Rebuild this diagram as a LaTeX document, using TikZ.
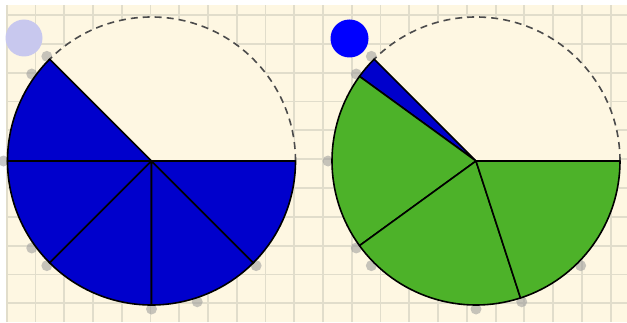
\documentclass[tikz,border=0pt]{standalone}
\definecolor{paper}{RGB}{254,247,226}
\definecolor{paperline}{RGB}{225,221,203}
\definecolor{pieblue}{RGB}{0,0,204}
\definecolor{piegreen}{RGB}{77,178,41}
\definecolor{grabblue}{RGB}{0,0,255}
\definecolor{grabfaint}{RGB}{200,200,238}

\begin{document}
\begin{tikzpicture}[x=1pt, y=1pt,
  gridline/.style = {draw=paperline, line width=1.8pt},
  wedge/.style    = {draw=black, line width=1.6pt, line join=round},
  rim/.style      = {draw=black!70, line width=1.6pt, dash pattern=on 7pt off 5pt},
                      % the part of the whole that is not shaded yet
  handle/.style   = {circle, fill=gray!80, opacity=0.55, inner sep=0pt,
                     minimum size=11pt},
  grab/.style     = {circle, inner sep=0pt, minimum size=37pt},
]
  \useasboundingbox (0,0) rectangle (627,322);
  \fill[white] (0,0) rectangle (627,322);
  \fill[paper] (6,0) rectangle (627,317);

  % squared paper
  \foreach \k in {0,...,21}
    \draw[gridline] ({6.7+28.76*\k},0) -- ++(0,317);
  \foreach \k in {0,...,10}
    \draw[gridline] (6,{307-28.83*\k}) -- (627,{307-28.83*\k});

  \coordinate (lc) at (151.5,161);
  \coordinate (rc) at (476,161);

  % drag points on the rim (eighths and fifths)
  \foreach \c in {lc,rc}
    \foreach \a in {135,144,180,216,225,270,288,315}
      \node[handle] (\c h\a) at ([shift={(\a:148)}]\c) {};

  \fill[paper] (lc) circle[radius=144];
  \fill[paper] (rc) circle[radius=144];
  \draw[rim] ([shift={(0:144)}]lc) arc[start angle=0, end angle=135, radius=144];
  \draw[rim] ([shift={(0:144)}]rc) arc[start angle=0, end angle=135, radius=144];

  % 5/8 in eighths
  \foreach \a in {135,180,225,270,315}
    \filldraw[wedge, fill=pieblue] (lc) -- ++(\a:144)
      arc[start angle=\a, delta angle=45, radius=144] -- cycle;

  % 3/5 and what is left over
  \filldraw[wedge, fill=pieblue] (rc) -- ++(135:144)
    arc[start angle=135, end angle=144, radius=144] -- cycle;
  \foreach \a in {144,216,288}
    \filldraw[wedge, fill=piegreen] (rc) -- ++(\a:144)
      arc[start angle=\a, delta angle=72, radius=144] -- cycle;

  \node[grab, fill=grabfaint] (lgrab) at (24,284) {};
  \node[grab, fill=grabblue, minimum size=38pt] (rgrab) at (349.5,283.5) {};
\end{tikzpicture}
\end{document}
